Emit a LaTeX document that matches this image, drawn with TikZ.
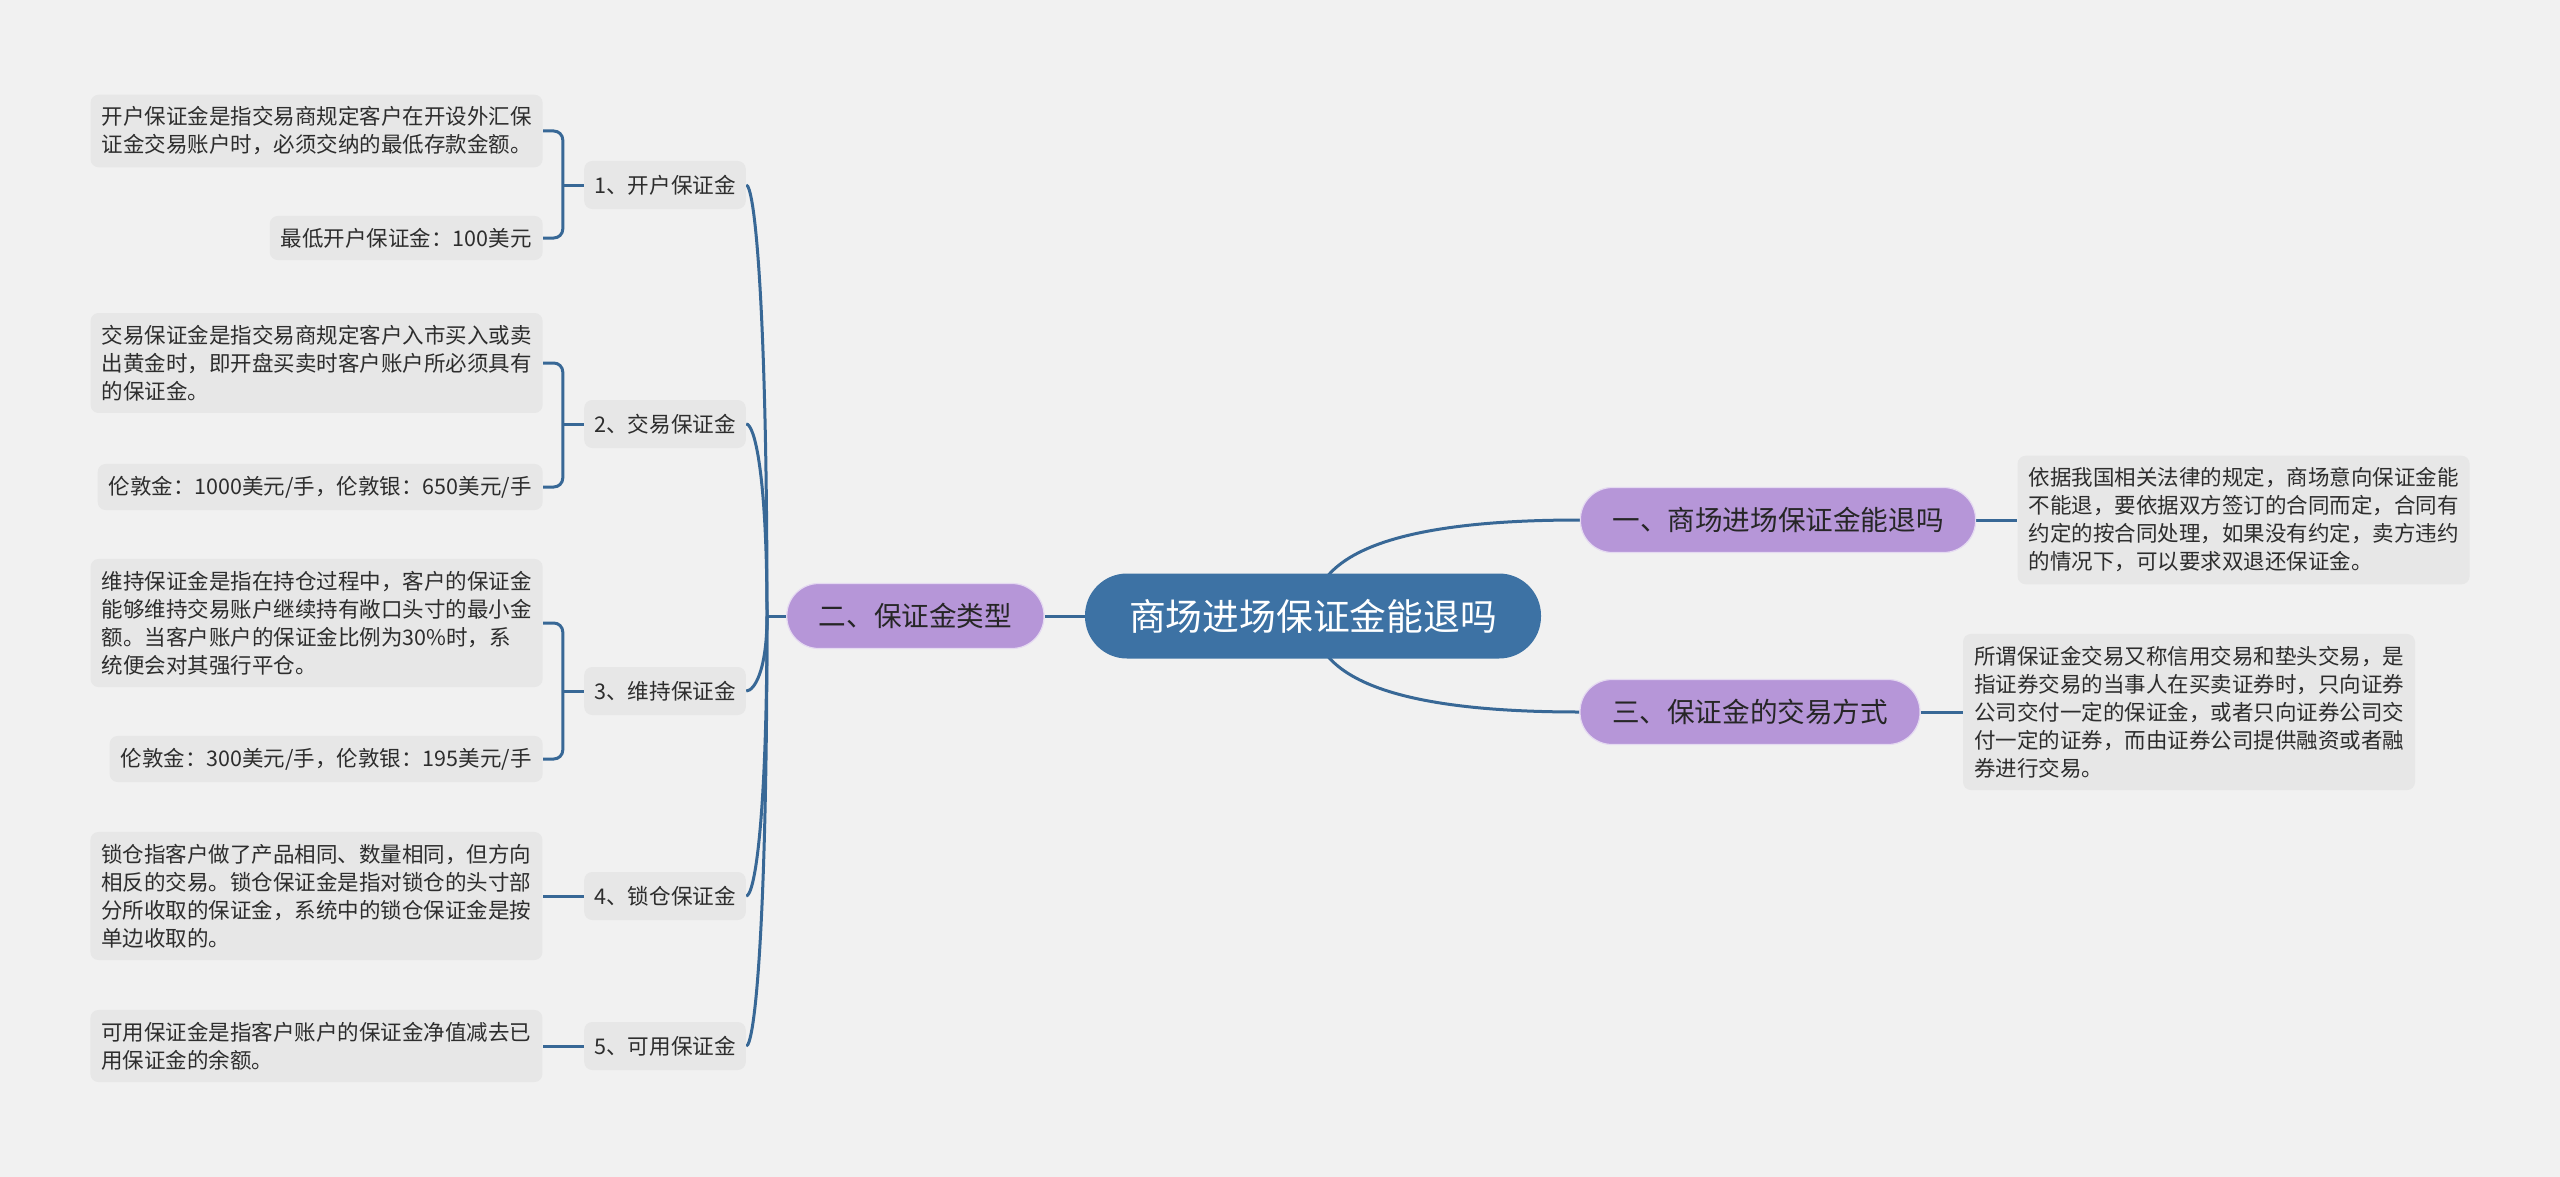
\documentclass[tikz,border=0pt]{standalone}
\usepackage{fontspec}
\setmainfont{Noto Sans CJK SC}
\usepackage{xcolor}
\usepackage{tikz}
\usetikzlibrary{positioning,calc,backgrounds}
\definecolor{mybg}{RGB}{241,241,241}
\definecolor{myleaf}{RGB}{231,231,231}
\definecolor{mypurple}{RGB}{182,150,216}
\definecolor{myblue}{RGB}{61,114,164}
\definecolor{myline}{RGB}{56,104,150}
\definecolor{mytext}{RGB}{45,45,45}

\begin{document}
\begin{tikzpicture}[x=0.5pt, y=-0.5pt]
    \tikzstyle{leaf}=[fill=myleaf, rounded corners=4pt, inner xsep=5.5pt, inner ysep=6pt, align=left, text=mytext, font=\fontsize{10.75pt}{14pt}\selectfont]
    \tikzstyle{sub}=[fill=myleaf, rounded corners=4pt, inner xsep=5pt, minimum height=24pt, text=mytext, font=\fontsize{10.8pt}{13pt}\selectfont]
    \tikzstyle{topic}=[fill=mypurple, draw=white!65!mypurple, line width=0.6pt, rounded corners=16pt, inner xsep=16pt, minimum height=32.5pt, text=black!85, font=\fontsize{13.8pt}{16pt}\selectfont]
    \tikzstyle{root}=[fill=myblue, rounded corners=21pt, inner xsep=22pt, minimum height=42.5pt, text=white, font=\fontsize{18.4pt}{22pt}\selectfont]
    \tikzstyle{link}=[draw=myline, line width=1.5pt]
    \useasboundingbox (0,0) rectangle (2560,1177);
    \begin{scope}[on background layer]
      \fill[mybg] (0,0) rectangle (2560,1177);
    \end{scope}

    % centre and main topics
    \node[root] (ctr) at (1313,616) {商场进场保证金能退吗};
    \node[topic, left=20pt of ctr] (two) {二、保证金类型};
    \node[topic] (one) at (1778,520) {一、商场进场保证金能退吗};
    \node[topic] (three) at (1750,712) {三、保证金的交易方式};

    % right side texts
    \node[leaf, right=20.5pt of one] (r1) {依据我国相关法律的规定，商场意向保证金能\\不能退，要依据双方签订的合同而定，合同有\\约定的按合同处理，如果没有约定，卖方违约\\的情况下，可以要求双退还保证金。};
    \node[leaf, right=21pt of three] (r3) {所谓保证金交易又称信用交易和垫头交易，是\\指证券交易的当事人在买卖证券时，只向证券\\公司交付一定的保证金，或者只向证券公司交\\付一定的证券，而由证券公司提供融资或者融\\券进行交易。};

    % types of margin
    \node[sub] (k1) at (665,185) {1、开户保证金};
    \node[sub] (k2) at (665,424) {2、交易保证金};
    \node[sub] (k3) at (665,691) {3、维持保证金};
    \node[sub] (k4) at (665,896) {4、锁仓保证金};
    \node[sub] (k5) at (665,1046) {5、可用保证金};

    \node[leaf, anchor=east] (l1a) at (543,131) {开户保证金是指交易商规定客户在开设外汇保\\证金交易账户时，必须交纳的最低存款金额。};
    \node[leaf, anchor=east] (l1b) at (543,238) {最低开户保证金：100美元};
    \node[leaf, anchor=east] (l2a) at (543,363) {交易保证金是指交易商规定客户入市买入或卖\\出黄金时，即开盘买卖时客户账户所必须具有\\的保证金。};
    \node[leaf, anchor=east] (l2b) at (543,487) {伦敦金：1000美元/手，伦敦银：650美元/手};
    \node[leaf, anchor=east] (l3a) at (543,623) {维持保证金是指在持仓过程中，客户的保证金\\能够维持交易账户继续持有敞口头寸的最小金\\额。当客户账户的保证金比例为30\%时，系\\统便会对其强行平仓。};
    \node[leaf, anchor=east] (l3b) at (543,759) {伦敦金：300美元/手，伦敦银：195美元/手};
    \node[leaf, left=20.5pt of k4] (l4) {锁仓指客户做了产品相同、数量相同，但方向\\相反的交易。锁仓保证金是指对锁仓的头寸部\\分所收取的保证金，系统中的锁仓保证金是按\\单边收取的。};
    \node[leaf, left=20.5pt of k5] (l5) {可用保证金是指客户账户的保证金净值减去已\\用保证金的余额。};

    \coordinate (J) at (767,616);
    \coordinate (b1) at ($(k1.west)+(-21,0)$);
    \coordinate (b2) at ($(k2.west)+(-21,0)$);
    \coordinate (b3) at ($(k3.west)+(-21,0)$);

    % connectors
    \begin{scope}[on background layer]
      \draw[link] (ctr.center) .. controls +(0,-64) and +(-180,0) .. (one.west);
      \draw[link] (ctr.center) .. controls +(0,64) and +(-180,0) .. (three.west);
      \draw[link] (one) -- (r1);
      \draw[link] (three) -- (r3);
      \draw[link] (ctr) -- (two);
      \draw[link] (two.west) -- (J);
      \foreach \k/\d in {k1/-320, k2/-145, k3/55, k4/210, k5/320}
        \draw[link] (J) .. controls +(0,\d) and +(8,0) .. (\k.east);
      \draw[link] (k1.west) -- (b1);
      \draw[link] (k2.west) -- (b2);
      \draw[link] (k3.west) -- (b3);
      \draw[link, rounded corners=4.5pt] (l1a.east) -| (b1) |- (l1b.east);
      \draw[link, rounded corners=4.5pt] (l2a.east) -| (b2) |- (l2b.east);
      \draw[link, rounded corners=4.5pt] (l3a.east) -| (b3) |- (l3b.east);
      \draw[link] (k4) -- (l4);
      \draw[link] (k5) -- (l5);
    \end{scope}
  \end{tikzpicture}
\end{document}
